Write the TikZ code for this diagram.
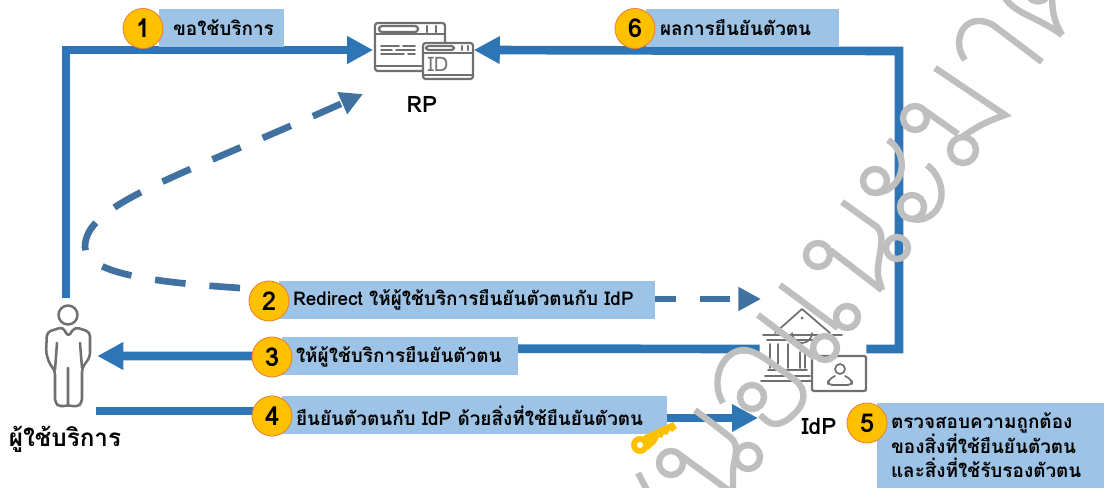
\documentclass[tikz,border=0pt]{standalone}
\usepackage{fontspec}
\setmainfont[Script=Thai]{Loma}
\usetikzlibrary{positioning,backgrounds,arrows.meta}
\definecolor{bleufleche}{RGB}{46,117,182}
\definecolor{bleutiret}{RGB}{65,113,160}
\definecolor{bleuboite}{RGB}{157,195,230}
\definecolor{jaunerond}{RGB}{255,192,0}
\definecolor{orangerond}{RGB}{237,125,49}
\definecolor{grisicone}{RGB}{112,112,112}
\definecolor{grisfiligrane}{RGB}{191,191,191}
\begin{document}
\begin{tikzpicture}[x=0.75pt,y=-0.75pt]
        \tikzset{
          boite/.style={
            fill=bleuboite,inner xsep=10.5pt,inner ysep=0pt,align=left,
            minimum height=28.5pt,font=\fontsize{14.2}{18.4}\selectfont\bfseries,text=black,
          },
          rond/.style={
            circle,fill=jaunerond,draw=orangerond,line width=0.6pt,inner sep=0pt,
            minimum size=30pt,font=\fontsize{19.5}{20}\selectfont\bfseries,text=black,
          },
          titre/.style={font=\fontsize{17}{18}\selectfont\bfseries,text=black,inner sep=0pt},
          icone/.style={inner sep=0pt,minimum width=#1},
          fleche/.style={
            -{Triangle[length=19.5pt,width=19.5pt]},line width=6.5pt,draw=bleufleche,
          },
          tiret/.style={
            -{Triangle[length=17pt,width=17pt]},line width=5pt,draw=bleutiret,
            dash pattern=on 23pt off 18pt,
          },
          trait/.style={draw=grisicone,line width=1.7pt,line join=round,line cap=round},
          filigrane/.style={draw=grisfiligrane,line width=4.8pt},
          }
        \useasboundingbox (0,0) rectangle (1104,488);

        % les trois icones
        \node[icone=75pt,minimum height=43.5pt] (rp) at (423.5,50) {};
        \node[icone=79.5pt,minimum height=63pt] (idp) at (813,349) {};
        \node[icone=38.25pt,minimum height=76.5pt] (user) at (71.5,356) {};
        \coordinate (haut gauche) at (66,298);
        \coordinate (depart idp) at (96,411);
        \coordinate (arrivee idp) at (758,418);
        \coordinate (coude droit) at (899,51);
        \coordinate (coude trois) at (400,348.5);
        \coordinate (coude quatre) at (400,418);
        \coordinate (virage) at (85,247);
        \coordinate (depart deux) at (240,288);
        \coordinate (pointe rp) at (363,94);
        \coordinate (depart tiret) at (645,299);
        \coordinate (pointe idp) at (761,299);

        \node[titre] (rplabel) at (422,104) {RP};
        \node[titre] (idplabel) at (819,426) {IdP};
        \node[titre,font=\fontsize{18.2}{20}\selectfont\bfseries] (userlabel) at (65,439) {ผู้ใช้บริการ};

        \node[boite,text width=72.75pt] (b1) at (221.5,28) {ขอใช้บริการ};
        \node[boite,text width=123.75pt] (b6) at (742.5,28) {ผลการยืนยันตัวตน};
        \node[boite,text width=261pt] (b2) at (467,300) {\mbox{Redirect ให้ผู้ใช้บริการยืนยันตัวตนกับ IdP}};
        \node[boite,text width=156pt] (b3) at (400,356.5) {ให้ผู้ใช้บริการยืนยันตัวตน};
        \node[boite,text width=267.75pt] (b4) at (474.5,415.5) {\mbox{ยืนยันตัวตนกับ IdP ด้วยสิ่งที่ใช้ยืนยันตัวตน}};
        \node[boite,text width=149.25pt,minimum height=63.75pt] (b5) at (990.5,445.5) {ตรวจสอบความถูกต้อง\\ของสิ่งที่ใช้ยืนยันตัวตน\\และสิ่งที่ใช้รับรองตัวตน};

        \node[rond] (n1) at (143,28.5) {1};
        \node[rond] (n2) at (269,301) {2};
        \node[rond] (n3) at (272,357) {3};
        \node[rond] (n4) at (272,416) {4};
        \node[rond] (n5) at (867,423) {5};
        \node[rond] (n6) at (635,28.5) {6};

        \begin{scope}[on background layer]
            \draw[fleche] (haut gauche) |- (rp.west);
            \draw[fleche] (idp.east) -| (coude droit) -- (rp.east);
            \draw[fleche] (idp.west) -- (coude trois) -- (coude trois |- user.east) -- (user.east);
            \draw[fleche] (depart idp) -- (depart idp -| coude quatre) -- (coude quatre) -- (arrivee idp);
            \draw[tiret] (depart deux) .. controls (165,283) and (85,275) .. (virage)
              .. controls (85,205) and (170,180) .. (pointe rp);
            \draw[tiret] (depart tiret) -- (pointe idp);
        \end{scope}

        % icone RP
        \draw[trait,rounded corners=2pt] (375,23) rectangle (445,71);
        \draw[trait,rounded corners=2.2pt] (379,26) rectangle (418,32);
        \draw[trait] (427,26) -- (427,32) (436,26) -- (436,32) (375,34) -- (445,34) (375,66) -- (422,66);
        \draw[trait,line width=1.3pt] (381,46) -- (399,46) (403,46) -- (415,46) (381,50) -- (392,50)
          (396,50) -- (415,50) (381,54) -- (404,54) (408,54) -- (415,54);
        \draw[trait,fill=white,rounded corners=2pt] (423,43) rectangle (473,79);
        \draw[trait,rounded corners=2pt] (426,46) rectangle (454,50);
        \draw[trait] (462,46) -- (462,50) (468,46) -- (468,50) (423,53) -- (473,53) (423,75) -- (473,75);
        \node[text=grisicone,inner sep=0pt,font=\fontsize{15}{15}\selectfont] (idtext) at (438,64) {ID};

        % icone utilisateur
        \draw[trait,line width=1.9pt] (68,315) circle[radius=9.5];
        \draw[trait,line width=1.9pt,rounded corners=3pt] (63,327) -- (47,332) -- (46,353) -- (50,365) -- (55,370)
          -- (55,403) -- (60,407) -- (68,405) -- (77,407) -- (82,403) -- (82,368) -- (90,357) -- (90,332)
          -- (75,327) -- (68,337) -- cycle;
        \draw[trait,line width=1.9pt] (68,368) -- (68,405) (57,343) -- (55,370) (80,343) -- (82,368);

        % icone IdP
        \draw[trait,line width=1.3pt] (775,333) -- (802,309) -- (830,333) (763,335) -- (842,335);
        \draw[trait,line width=1.3pt] (792,333) arc[start angle=180,end angle=0,radius=10] (802,318) circle[radius=0.6];
        \draw[trait,line width=1.3pt] (767,340) -- (817,340) (770,344) -- (770,368) (778,344) -- (778,368)
          (788,344) -- (788,368) (800,352) -- (800,368) (805,352) -- (805,368) (768,370) -- (807,370)
          (765,376) -- (810,376) (761,381) -- (813,381);
        \draw[trait,fill=white,rounded corners=1.5pt] (812,356) rectangle (866,391);
        \draw[trait,line width=1.3pt] (840,369) circle[radius=5];
        \draw[trait,line width=1.3pt,rounded corners=3pt] (835,376) -- (828,380) -- (828,385) -- (852,385) -- (852,380) -- (845,376);

        % cle
        \fill[jaunerond,even odd rule] (640,445) circle[radius=9] (640,445) circle[radius=3.2];
        \fill[jaunerond] (643,436) -- (673,422) -- (677,428) -- (672,432) -- (670,430) -- (667,435) -- (664,434)
          -- (662,438) -- (659,437) -- (656,443) -- (648,450) -- cycle;

        % filigrane
        \draw[filigrane] (1052,-5) .. controls (1052,15) and (1056,25) .. (1062,35);
        \draw[filigrane] (1003,-5) .. controls (1015,15) and (1035,15) .. (1062,35);
        \draw[filigrane] (1029,-3) .. controls (1034,3) and (1042,3) .. (1047,-3);
        \draw[filigrane] (965,60) .. controls (950,40) and (965,10) .. (993,25) -- (1042,62);
        \draw[filigrane] (935,68) -- (1005,115) .. controls (985,122) and (975,128) .. (962,137);
        \draw[filigrane] (963,150) circle[radius=13];
        \draw[filigrane] (915,118) circle[radius=12];
        \draw[filigrane] (924,110) -- (958,134);
        \draw[filigrane] (888,140) .. controls (905,150) and (908,178) .. (887,190) .. controls (882,192) and (878,193) .. (875,193);
        \draw[filigrane] (875,181) circle[radius=12];
        \draw[filigrane] (927,165) .. controls (947,180) and (947,212) .. (923,219) .. controls (918,220) and (915,220) .. (912,219);
        \draw[filigrane] (912,207) circle[radius=12];
        \draw[filigrane] (842,202) -- (877,227) .. controls (885,235) and (880,250) .. (878,267) .. controls (877,277) and (880,282) .. (882,290);
        \draw[filigrane] (897,248) circle[radius=11];
        \draw[filigrane] (882,290) -- (830,250);
        \draw[filigrane] (818,255) circle[radius=12];
        \draw[filigrane] (780,285) -- (838,328);
        \draw[filigrane] (847,317) circle[radius=11];
        \draw[filigrane] (758,315) -- (815,358);
        \draw[filigrane] (825,348) circle[radius=12];
        \draw[filigrane] (723,403) .. controls (712,385) and (718,360) .. (735,352) .. controls (745,347) and (755,352) .. (767,360)
          -- (795,380) .. controls (808,390) and (805,405) .. (793,415) .. controls (785,423) and (775,427) .. (767,421) -- (760,415);
        \draw[filigrane] (752,397) circle[radius=12];
        \draw[filigrane] (695,410) -- (730,437) .. controls (740,445) and (735,455) .. (733,470) -- (733,495);
        \draw[filigrane] (748,457) circle[radius=12];
        \draw[filigrane] (680,455) -- (735,495);
        \draw[filigrane] (671,463) circle[radius=12];
        \draw[filigrane] (638,473) -- (648,492);
      \end{tikzpicture}
\end{document}
